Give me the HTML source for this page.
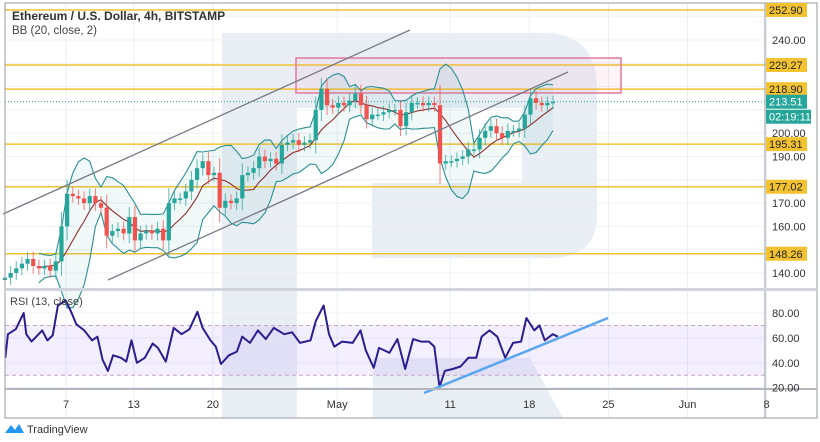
<!DOCTYPE html>
<html><head><meta charset="utf-8">
<style>
html,body{margin:0;padding:0;background:#fff;}
body{width:820px;height:442px;overflow:hidden;font-family:"Liberation Sans",sans-serif;}
svg{display:block;}
</style></head>
<body>
<svg id="chart" width="820" height="442" xmlns="http://www.w3.org/2000/svg">
  <g id="wm" fill="#e9eef4">
    <rect x="222" y="33" width="75" height="385"/>
    <path d="M297,33 L545,33 Q597,33 597,90 L597,215 Q597,258 550,258 L372,258 L372,183 L522,183 L522,108 L297,108 Z"/>
    <path d="M373,358 L530,358 L563,418 L373,418 Z"/>
  </g>
  <g id="grid"></g>
  <g id="levels"></g>
  <rect x="296" y="58" width="325" height="35" fill="rgba(240,120,160,0.08)" stroke="#e27a9c" stroke-width="1.5"/>
  <g id="bb"></g>
  <g id="candles"></g>
  <line x1="3" y1="214" x2="410" y2="30" stroke="#787b86" stroke-width="1.3"/>
  <line x1="108" y1="280" x2="568" y2="72" stroke="#787b86" stroke-width="1.3"/>
  <g id="rsi"></g>
  <line x1="424" y1="393" x2="608" y2="318" stroke="#5aa6ef" stroke-width="2.5"/>
  <g id="axes"></g>
  <text x="12" y="20" font-size="12" font-weight="bold" fill="#333">Ethereum / U.S. Dollar, 4h, BITSTAMP</text>
  <text x="12" y="34" font-size="11.5" fill="#444">BB (20, close, 2)</text>
  <text x="10" y="305" font-size="11" fill="#444">RSI (13, close)</text>
  <g>
    <path d="M5,433 L11,425 L15,430 L19,424 L24,433 Z" fill="#2196f3"/>
    <text x="27" y="433" font-size="11" fill="#333">TradingView</text>
  </g>
</svg>
<script>
// ---- data ----
const firstDay = 1.6;
const stepDays = 0.5;
const closes = [138,140,142,144,146,143,142,143,141,145,160,174,173,172,170,173,170,168,156,158,159,157,164,154,157,158,157,159,154,170,172,172,175,180,185,188,182,183,168,171,170,172,182,183,185,190,188,189,187,195,196,197,195,196,197,210,219,212,211,213,212,214,217,212,206,208,208,209,210,210,203,209,213,213,212,213,212,187,188,188,189,190,193,193,198,201,203,200,198,201,201,202,208,215,213,212,213,213.5];
const rsiDays = [1.63,1.86,2.56,3.26,3.49,3.95,4.89,5.35,5.82,6.28,6.98,7.45,7.91,8.61,9.31,9.78,10.24,10.71,11.17,11.87,12.34,12.80,13.27,13.97,14.67,15.13,15.83,16.53,17.23,17.93,18.63,19.09,19.79,20.26,20.72,21.42,22.12,22.59,23.28,23.98,24.68,25.38,26.31,27.01,27.71,28.64,29.11,29.80,30.27,30.74,31.43,32.37,33.06,33.53,34.23,34.70,35.63,36.33,37.02,37.72,38.42,39.12,39.59,40.05,40.52,41.22,41.91,42.61,43.31,43.78,44.48,45.17,45.87,46.57,47.27,47.74,48.44,48.90,49.37,50.07,50.53];
const rsiVals = [44,63,67,80,63,57,66,58,62,86,90,81,71,66,58,61,42.5,33.5,46,44,41,58,40,44,55.5,52,41,68,63,67,81,68,58,53,39,46,49,61,56,66,59,68,63,64.5,56,58,73.5,86,63,53,57,56,66,50,36,52,48,59,35,59,57,57,53,20.5,33.5,35,37,44,44,61,66,61,44,56,57,76,66,70,58,63,61];
const levelVals = [252.90,229.27,218.90,195.31,177.02,148.26];
const priceTicks = [140,150,160,170,180,190,200,210,220,230,240,250];
const priceTickShown = [140,160,170,190,200,240];
const rsiTicks = [20,40,60,80];
const xTickDays = [7,13,20,31,41,48,55,62,69];
const xTickLabels = ["7","13","20","May","11","18","25","Jun","8"];
const lastPrice = 213.51;
const timerText = "02:19:11";

// ---- scales ----
const X = d => 66 + (d - 7) * 11.3;
const Y = p => 40 + (240 - p) * 2.33;
const R = r => 313 + (80 - r) * 1.245;
const NS = "http://www.w3.org/2000/svg";
function mk(tag, attrs, parent){ const e=document.createElementNS(NS,tag); for(const k in attrs) e.setAttribute(k,attrs[k]); parent.appendChild(e); return e; }

// grid
const grid = document.getElementById('grid');
priceTicks.forEach(p=>{
  const l = mk('line',{x1:5,x2:765,y1:Y(p),y2:Y(p),stroke:'#eef1f5','stroke-width':1},grid);
  
  
});
rsiTicks.forEach(r=>{
  const l = mk('line',{x1:5,x2:765,y1:R(r),y2:R(r),stroke:'#eef1f5','stroke-width':1},grid);
  
  
});
xTickDays.forEach(d=>{
  const l = mk('line',{x1:X(d),x2:X(d),y1:3,y2:418,stroke:'#e9eef4','stroke-width':1},grid);
  
  
});

// levels
const lv = document.getElementById('levels');
levelVals.forEach(p=>{
  const l = mk('line',{x1:5,x2:765,y1:Y(p),y2:Y(p),stroke:'#f2c230','stroke-width':1.5},lv);
  
  
});
const ll = mk('line',{x1:5,x2:765,y1:Y(lastPrice),y2:Y(lastPrice),stroke:'#26a69a','stroke-width':1,'stroke-dasharray':'1,2'},lv);



// bollinger
const bbG = document.getElementById('bb');
const N = 7;
const mid=[],up=[],lo=[],bx=[];
closes.forEach((c,i)=>{
  if(i < N-1) return;
  const w = closes.slice(i-N+1,i+1);
  const m = w.reduce((a,b)=>a+b,0)/N;
  const sd = Math.sqrt(w.reduce((a,b)=>a+(b-m)*(b-m),0)/N);
  mid.push(m); up.push(m+2*sd+1.5); lo.push(m-2*sd-1.5); bx.push(X(firstDay+i*stepDays));
});
const pts = (arr)=>arr.map((v,i)=>bx[i].toFixed(1)+','+Y(v).toFixed(1));
const fill = mk('polygon',{points:pts(up).concat(pts(lo).reverse()).join(' '),fill:'rgba(38,150,150,0.07)'},bbG);


const bu = mk('polyline',{points:pts(up).join(' '),fill:'none',stroke:'#2b8f92','stroke-width':1.1},bbG);


const bl = mk('polyline',{points:pts(lo).join(' '),fill:'none',stroke:'#2b8f92','stroke-width':1.1},bbG);


const bm = mk('polyline',{points:pts(mid).join(' '),fill:'none',stroke:'#8c2d2d','stroke-width':1.1},bbG);



// candles
const cg = document.getElementById('candles');
closes.forEach((c,i)=>{
  const o = i===0 ? c-1 : closes[i-1];
  const x = X(firstDay+i*stepDays);
  const col = c>=o ? '#26a69a' : '#ef5350';
  const ext = 2.5 + Math.abs(c-o)*0.25;
  const hi = Math.max(o,c)+ext, lw = Math.min(o,c)-ext;
  const w = mk('line',{x1:x,x2:x,y1:Y(hi),y2:Y(lw),stroke:col,'stroke-width':1,opacity:0.75},cg);
  
  
  const b = mk('rect',{x:x-2.1,width:4.2,y:Y(Math.max(o,c)),height:Math.max(1.5,Math.abs(Y(o)-Y(c))),fill:col},cg);
  
  
});

// rsi
const rg = document.getElementById('rsi');
const band = mk('rect',{x:5,width:760,y:R(70),height:R(30)-R(70),fill:'rgba(150,100,255,0.10)'},rg);


[70,30].forEach(r=>{
  const l = mk('line',{x1:5,x2:765,y1:R(r),y2:R(r),stroke:'#c8a6c8','stroke-width':1,'stroke-dasharray':'4,3'},rg);
  
  
});
const rl = mk('polyline',{points:rsiDays.map((d,i)=>X(d).toFixed(1)+','+R(rsiVals[i]).toFixed(1)).join(' '),fill:'none',stroke:'#2a1e8f','stroke-width':2,'stroke-linejoin':'round'},rg);



// axes & frame
const ax = document.getElementById('axes');
const frame = mk('rect',{x:5,y:3,width:812,height:415,fill:'none',stroke:'#9598a1','stroke-width':1},ax);


const va = mk('line',{x1:765,x2:765,y1:3,y2:418,stroke:'#9598a1','stroke-width':1},ax);


const sep1 = mk('rect',{x:5,y:288,width:812,height:3,fill:'#d1d4dc'},ax);


const sep2 = mk('rect',{x:5,y:388,width:812,height:2,fill:'#b2b5be'},ax);


priceTickShown.forEach(p=>{
  const t = mk('text',{x:772,y:Y(p)+4,'font-size':11,fill:'#333'},ax);
  t.textContent = p.toFixed(2);
  
  
});
rsiTicks.forEach(r=>{
  const t = mk('text',{x:772,y:R(r)+4,'font-size':11,fill:'#333'},ax);
  t.textContent = r.toFixed(2);
  
  
});
xTickDays.forEach((d,i)=>{
  const t = mk('text',{x:X(d),y:408,'font-size':11,fill:'#333','text-anchor':'middle'},ax);
  t.textContent = xTickLabels[i];
  
  
});
levelVals.forEach(p=>{
  const r = mk('rect',{x:766,y:Y(p)-7,width:41,height:14,fill:'#f2c230'},ax);
  
  
  const t = mk('text',{x:769,y:Y(p)+4,'font-size':11,fill:'#222'},ax);
  t.textContent = p.toFixed(2);
  
  
});
const lb = mk('rect',{x:766,y:Y(lastPrice)-7,width:41,height:14,fill:'#26a69a'},ax);


const lt = mk('text',{x:769,y:Y(lastPrice)+4,'font-size':11,fill:'#fff'},ax);
lt.textContent = lastPrice.toFixed(2);


const tb = mk('rect',{x:766,y:Y(lastPrice)+8,width:45,height:14,fill:'#26a69a'},ax);


const tt = mk('text',{x:769,y:Y(lastPrice)+19,'font-size':11,fill:'#fff'},ax);
tt.textContent = timerText;


</script>
</body></html>
